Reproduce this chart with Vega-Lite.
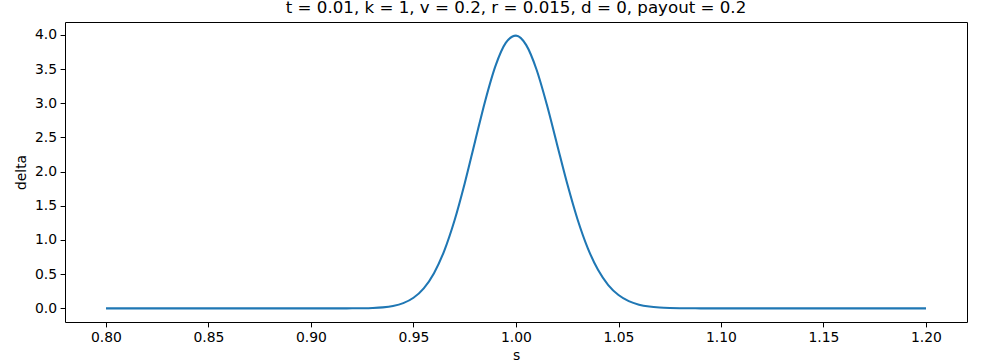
{
  "$schema": "https://vega.github.io/schema/vega-lite/v6.json",
  "width": 902,
  "height": 300,
  "autosize": {"type": "none"},
  "padding": {"left": 65, "top": 22, "right": 14, "bottom": 41},
  "background": "white",
  "config": {
    "font": "DejaVu Sans",
    "view": {"stroke": "black", "strokeWidth": 1},
    "axis": {
      "grid": false,
      "domain": false,
      "tickColor": "black",
      "tickWidth": 1,
      "tickSize": 4.9,
      "labelPadding": 3.5,
      "labelFont": "DejaVu Sans",
      "labelFontSize": 13.9,
      "labelColor": "black",
      "titleFont": "DejaVu Sans",
      "titleFontSize": 13.9,
      "titleFontWeight": "normal",
      "titleColor": "black"
    }
  },
  "title": {
    "text": "t = 0.01, k = 1, v = 0.2, r = 0.015, d = 0, payout = 0.2",
    "font": "DejaVu Sans",
    "fontSize": 16.67,
    "fontWeight": "normal",
    "color": "black",
    "anchor": "middle",
    "baseline": "top",
    "offset": 5
  },
  "data": {
    "values": [
      {"s": 0.80, "delta": 0},
      {"s": 0.85, "delta": 0},
      {"s": 0.875, "delta": 0},
      {"s": 0.900, "delta": 0.000004},
      {"s": 0.905, "delta": 0.000017},
      {"s": 0.910, "delta": 0.000064},
      {"s": 0.915, "delta": 0.000224},
      {"s": 0.920, "delta": 0.000722},
      {"s": 0.925, "delta": 0.002143},
      {"s": 0.930, "delta": 0.005885},
      {"s": 0.935, "delta": 0.01494},
      {"s": 0.940, "delta": 0.03514},
      {"s": 0.945, "delta": 0.07675},
      {"s": 0.950, "delta": 0.15559},
      {"s": 0.955, "delta": 0.29339},
      {"s": 0.960, "delta": 0.51485},
      {"s": 0.965, "delta": 0.84204},
      {"s": 0.970, "delta": 1.28461},
      {"s": 0.975, "delta": 1.83016},
      {"s": 0.980, "delta": 2.43748},
      {"s": 0.985, "delta": 3.03793},
      {"s": 0.990, "delta": 3.5467},
      {"s": 0.995, "delta": 3.8825},
      {"s": 1.000, "delta": 3.9888},
      {"s": 1.005, "delta": 3.8498},
      {"s": 1.010, "delta": 3.4939},
      {"s": 1.015, "delta": 2.9843},
      {"s": 1.020, "delta": 2.40119},
      {"s": 1.025, "delta": 1.82159},
      {"s": 1.030, "delta": 1.30404},
      {"s": 1.035, "delta": 0.8817},
      {"s": 1.040, "delta": 0.56346},
      {"s": 1.045, "delta": 0.34065},
      {"s": 1.050, "delta": 0.195},
      {"s": 1.055, "delta": 0.10575},
      {"s": 1.060, "delta": 0.05439},
      {"s": 1.065, "delta": 0.02654},
      {"s": 1.070, "delta": 0.0123},
      {"s": 1.075, "delta": 0.00542},
      {"s": 1.080, "delta": 0.00227},
      {"s": 1.085, "delta": 0.000905},
      {"s": 1.090, "delta": 0.000344},
      {"s": 1.095, "delta": 0.000125},
      {"s": 1.100, "delta": 0.000043},
      {"s": 1.125, "delta": 0},
      {"s": 1.15, "delta": 0},
      {"s": 1.20, "delta": 0}
    ]
  },
  "mark": {"type": "line", "color": "#1f77b4", "strokeWidth": 2.08, "interpolate": "monotone", "clip": true},
  "encoding": {
    "x": {
      "field": "s",
      "type": "quantitative",
      "scale": {"domain": [0.78, 1.22], "nice": false, "zero": false},
      "axis": {
        "values": [0.8, 0.85, 0.9, 0.95, 1.0, 1.05, 1.1, 1.15, 1.2],
        "format": ".2f",
        "title": "s",
        "titlePadding": 4
      }
    },
    "y": {
      "field": "delta",
      "type": "quantitative",
      "scale": {"domain": [-0.19944, 4.18824], "nice": false, "zero": false},
      "axis": {
        "values": [0, 0.5, 1, 1.5, 2, 2.5, 3, 3.5, 4],
        "format": ".1f",
        "title": "delta",
        "titlePadding": 6
      }
    }
  }
}
